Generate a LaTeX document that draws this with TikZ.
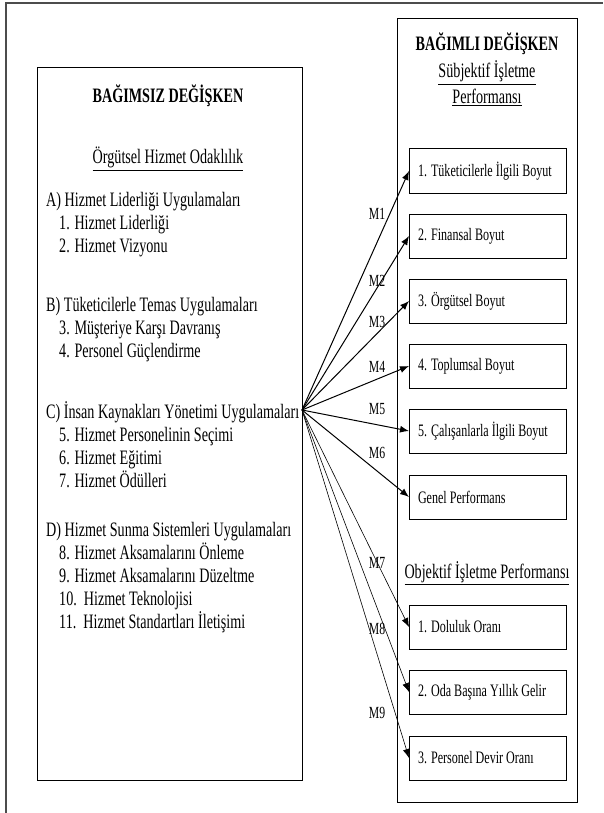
\documentclass[tikz,border=0pt]{standalone}
\usepackage{fontspec}
\setmainfont{Liberation Serif}[FakeStretch=0.69]
\usetikzlibrary{arrows.meta}

\begin{document}
\begin{tikzpicture}[x=1pt,y=-1pt,
  big/.style={inner sep=0pt,font=\fontsize{20.5}{22}\selectfont},
  grp/.style={big,anchor=base west},
  title/.style={big,anchor=base},
  dimbox/.style={draw,line width=1pt,anchor=west,minimum height=44pt,
    text width=140pt,inner xsep=8.5pt,align=flush left,
    font=\fontsize{17.5}{19}\selectfont},
  mlab/.style={inner sep=0pt,anchor=base,font=\fontsize{17}{18}\selectfont},
  arr/.style={line width=1pt,-{Latex[length=9pt,width=7pt]}},
  thinarr/.style={arr,line width=0.6pt}]
\useasboundingbox (0,0) rectangle (603,813);
\draw[black!70,line width=1.2pt] (6,813) -- (6,3) -- (603,3);

% left box
\draw[line width=1pt] (37,68) rectangle (302,780);
\node[title] (ttl) at (168,103) {\bfseries BAĞIMSIZ DEĞİŞKEN};
\node[title] (ohoc) at (168,164) {\underline{Örgütsel Hizmet Odaklılık}};
\node[grp] (ga) at (46,206) {A) Hizmet Liderliği Uygulamaları};
\node[grp] (g1) at (59,229) {1. Hizmet Liderliği};
\node[grp] (g2) at (59,252) {2. Hizmet Vizyonu};
\node[grp] (gb) at (46,311) {B) Tüketicilerle Temas Uygulamaları};
\node[grp] (g3) at (59,334) {3. Müşteriye Karşı Davranış};
\node[grp] (g4) at (59,357) {4. Personel Güçlendirme};
\node[grp] (gc) at (46,418) {C) İnsan Kaynakları Yönetimi Uygulamaları};
\node[grp] (g5) at (59,441) {5. Hizmet Personelinin Seçimi};
\node[grp] (g6) at (59,464) {6. Hizmet Eğitimi};
\node[grp] (g7) at (59,487) {7. Hizmet Ödülleri};
\node[grp] (gd) at (46,536) {D) Hizmet Sunma Sistemleri Uygulamaları};
\node[grp] (g8) at (59,559) {8. Hizmet Aksamalarını Önleme};
\node[grp] (g9) at (59,582) {9. Hizmet Aksamalarını Düzeltme};
\node[grp] (g10) at (59,605) {10.\ \ Hizmet Teknolojisi};
\node[grp] (g11) at (59,628) {11.\ \ Hizmet Standartları İletişimi};

% right box
\draw[line width=1pt] (397,19) rectangle (577,802);
\node[title] (dttl) at (487,51) {\bfseries BAĞIMLI DEĞİŞKEN};
\node[title] (sub1) at (487,78) {\underline{Sübjektif İşletme}};
\node[title] (sub2) at (487,104) {\underline{Performansı}};
\node[dimbox] (s1) at (409,171) {1. Tüketicilerle İlgili Boyut};
\node[dimbox] (s2) at (409,236) {2. Finansal Boyut};
\node[dimbox] (s3) at (409,301) {3. Örgütsel Boyut};
\node[dimbox] (s4) at (409,366) {4. Toplumsal Boyut};
\node[dimbox] (s5) at (409,431) {5. Çalışanlarla İlgili Boyut};
\node[dimbox] (s6) at (409,497) {Genel Performans};
\node[title] (obj) at (487,578) {\underline{Objektif İşletme Performansı}};
\node[dimbox] (o1) at (409,627) {1. Doluluk Oranı};
\node[dimbox] (o2) at (409,692) {2. Oda Başına Yıllık Gelir};
\node[dimbox] (o3) at (409,758) {3. Personel Devir Oranı};

% arrows
\coordinate (hub) at (302,410);
\draw[arr] (hub) -- (s1.west);
\draw[arr] (hub) -- (s2.west);
\draw[arr] (hub) -- (s3.west);
\draw[arr] (hub) -- (s4.west);
\draw[arr] (hub) -- (s5.west);
\draw[arr] (hub) -- (s6.west);
\draw[thinarr] (hub) -- (o1.west);
\draw[thinarr] (hub) -- (o2.west);
\draw[thinarr] (hub) -- (o3.west);
\node[mlab] (m1) at (377,219) {M1};
\node[mlab] (m2) at (377,286) {M2};
\node[mlab] (m3) at (377,327) {M3};
\node[mlab] (m4) at (377,372) {M4};
\node[mlab] (m5) at (377,414) {M5};
\node[mlab] (m6) at (377,458) {M6};
\node[mlab] (m7) at (377,568) {M7};
\node[mlab] (m8) at (377,634) {M8};
\node[mlab] (m9) at (377,718) {M9};
\end{tikzpicture}
\end{document}
